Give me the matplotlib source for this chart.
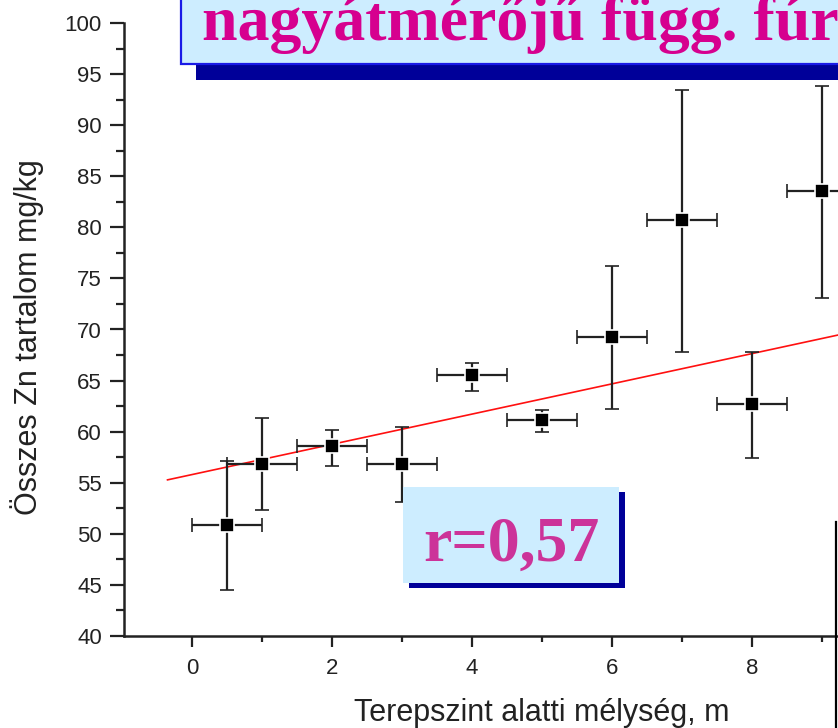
import matplotlib
matplotlib.use("Agg")
import matplotlib.pyplot as plt
from matplotlib.patches import Rectangle
from matplotlib.lines import Line2D
from matplotlib.ticker import MultipleLocator

# mélység (m) és Zn tartalom (mg/kg)
depth = [0.5, 1, 2, 3, 4, 5, 6, 7, 8, 9]
zn = [50.9, 56.85, 58.6, 56.85, 65.55, 61.15, 69.3, 80.7, 62.7, 83.6]
zn_upper = [57.1, 61.3, 60.2, 60.5, 66.7, 62.1, 76.2, 93.45, 67.8, 93.8]
zn_lower = [44.5, 52.35, 56.65, 53.1, 64.0, 60.0, 62.2, 67.8, 57.4, 73.1]
depth_err = [0.5] * 10

# illesztett egyenes
fit_slope = 1.48
fit_intercept = 55.8
fit_x = [-0.35, 9.4]

title_text = "nagyátmérőjű függ. fúr"
r_text = "r=0,57"

W, H = 838, 728
fig = plt.figure(figsize=(W / 100, H / 100), dpi=100)
plt.rcParams['font.family'] = ['Liberation Sans', 'DejaVu Sans']

# axes in pixel terms: left spine at x=124, x-axis at y=636, y=100 at y=23
ax = fig.add_axes([124 / W, (H - 636) / H, (W - 124) / W, (636 - 23) / H])
px_per_x = 70.0
ax.set_xlim((124 - 192) / px_per_x, (W - 192) / px_per_x)
ax.set_ylim(40, 100)

yerr = [[z - lo for z, lo in zip(zn, zn_lower)],
        [hi - z for z, hi in zip(zn, zn_upper)]]
ax.errorbar(depth, zn, xerr=depth_err, yerr=yerr, fmt='s', color='black',
            ecolor='#222222', elinewidth=1.6, capsize=5, capthick=1.6,
            ms=10, mfc='black', mec='white', mew=1.2, zorder=3,
            clip_on=False)

fx = [fit_x[0], fit_x[1]]
fy = [fit_intercept + fit_slope * v for v in fx]
ax.plot(fx, fy, color='#ff1010', lw=1.2, zorder=2)

for s in ['top', 'right']:
    ax.spines[s].set_visible(False)
for s in ['left', 'bottom']:
    ax.spines[s].set_linewidth(1.8)
    ax.spines[s].set_color('#222222')

ax.xaxis.set_major_locator(MultipleLocator(2))
ax.xaxis.set_minor_locator(MultipleLocator(1))
ax.yaxis.set_major_locator(MultipleLocator(5))
ax.yaxis.set_minor_locator(MultipleLocator(2.5))
ax.tick_params(axis='both', which='major', direction='out', color='#222222',
               width=1.6, labelsize=16, labelcolor='#222222')
ax.tick_params(axis='y', which='major', length=10, pad=6)
ax.tick_params(axis='x', which='major', length=8, pad=8)
ax.tick_params(axis='y', which='minor', length=6, width=1.6, color='#222222')
ax.tick_params(axis='x', which='minor', length=4.5, width=1.6, color='#222222')
ax.set_facecolor('none')

fig.text(37 / W, 1 - 337 / H, "Összes Zn tartalom mg/kg", rotation=90,
         rotation_mode='anchor', ha='center', va='baseline', fontsize=22,
         color='#222222')
fig.text(542 / W, 1 - 721 / H, "Terepszint alatti mélység, m",
         ha='center', va='baseline', fontsize=22, color='#222222')

# overlay in pixel coordinates for the boxes
ov = fig.add_axes([0, 0, 1, 1], zorder=5)
ov.set_xlim(0, W)
ov.set_ylim(H, 0)
ov.axis('off')
ov.set_facecolor('none')

# title box with shadow
ov.add_patch(Rectangle((196, 50), 700, 30, facecolor='#000099',
                       edgecolor='none'))
ov.add_patch(Rectangle((181, -20), 700, 83.5, facecolor='#cdedff',
                       edgecolor='#1a1ae6', lw=1.6))
ov.text(202, 40, title_text, fontsize=46, fontweight='bold',
        family=['Liberation Serif', 'DejaVu Serif'], color='#d6008f',
        ha='left', va='baseline')

# r box with shadow
ov.add_patch(Rectangle((409, 492), 216, 96, facecolor='#000099',
                       edgecolor='none'))
ov.add_patch(Rectangle((403, 487), 216, 96, facecolor='#cdedff',
                       edgecolor='none'))
ov.text(511, 561, r_text, fontsize=46, fontweight='bold',
        family=['Liberation Serif', 'DejaVu Serif'], color='#cc3399',
        ha='center', va='baseline')

# border of neighbouring frame at the right edge
ov.add_line(Line2D([836, 836], [522, H], color='black', lw=1.6))

fig.savefig("out.png", dpi=100)
